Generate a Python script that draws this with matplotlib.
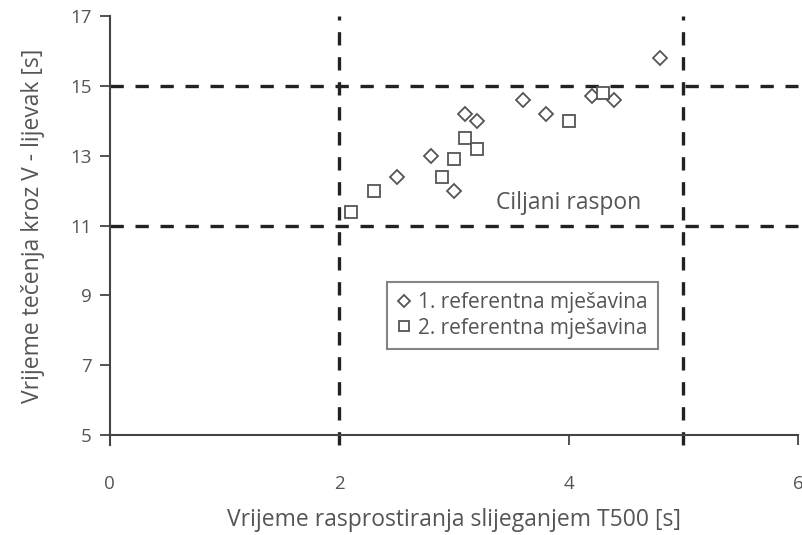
import matplotlib.pyplot as plt

plt.rcParams['font.family'] = ['Open Sans', 'DejaVu Sans']

# 1. referentna mjesavina (diamonds)
mix1_t500 = [2.5, 2.8, 3.0, 3.1, 3.2, 3.6, 3.8, 4.2, 4.4, 4.8]
mix1_vfun = [12.4, 13.0, 12.0, 14.2, 14.0, 14.6, 14.2, 14.7, 14.6, 15.8]

# 2. referentna mjesavina (squares)
mix2_t500 = [2.1, 2.3, 2.9, 3.0, 3.1, 3.2, 4.0, 4.3]
mix2_vfun = [11.4, 12.0, 12.4, 12.9, 13.5, 13.2, 14.0, 14.8]

target_t500 = [2, 5]
target_vfun = [11, 15]

x_ticks = [0, 2, 4, 6]
y_ticks = [5, 7, 9, 11, 13, 15, 17]

grey = '#555555'
fig = plt.figure(figsize=(8.02, 5.35), dpi=100)
ax = fig.add_axes([0.137, 0.187, 0.858, 0.783])

ax.plot(mix1_t500, mix1_vfun, linestyle='none', marker='D', markersize=7.5,
        markerfacecolor='white', markeredgecolor=grey, markeredgewidth=1.3,
        label='1. referentna mješavina', zorder=3)
ax.plot(mix2_t500, mix2_vfun, linestyle='none', marker='s', markersize=8.5,
        markerfacecolor='white', markeredgecolor=grey, markeredgewidth=1.3,
        label='2. referentna mješavina', zorder=3)

for xv in target_t500:
    ax.plot([xv, xv], [4.7, 17], color='#222222', lw=2.4, ls=(0, (4, 3.5)),
            clip_on=False, zorder=2)
for yv in target_vfun:
    ax.plot([0, 6], [yv, yv], color='#222222', lw=2.4, ls=(0, (4, 3.5)),
            clip_on=False, zorder=2)

ax.text(3.37, 11.65, 'Ciljani raspon', fontsize=16.5, color=grey, va='center')

ax.set_xlim(0, 6)
ax.set_ylim(5, 17)
ax.set_xticks(x_ticks)
ax.set_yticks(y_ticks)
ax.spines['top'].set_visible(False)
ax.spines['right'].set_visible(False)
for s in ['left', 'bottom']:
    ax.spines[s].set_color('#444444')
    ax.spines[s].set_linewidth(1.5)
ax.spines['left'].set_bounds(4.7, 17)
ax.tick_params(colors='#444444', labelcolor=grey, labelsize=13.5,
               length=7, width=1.3, direction='out')
ax.tick_params(axis='x', pad=22)
ax.tick_params(axis='y', pad=6)

ax.set_xlabel('Vrijeme rasprostiranja slijeganjem T500 [s]', fontsize=16.5,
              color=grey, va='center')
ax.xaxis.set_label_coords(0.5, -0.203)
ax.set_ylabel('Vrijeme tečenja kroz V - lijevak [s]', fontsize=16.5,
              color=grey, labelpad=18)

leg = ax.legend(loc='upper left', bbox_to_anchor=(0.403, 0.365),
                fontsize=15, frameon=True, fancybox=False,
                handlelength=0.6, handletextpad=0.4, borderpad=0.5,
                labelspacing=0.2, markerscale=0.8, borderaxespad=0)
leg.get_frame().set_edgecolor('#666666')
leg.get_frame().set_linewidth(1.5)
for t in leg.get_texts():
    t.set_color(grey)

fig.savefig('out.png', dpi=100)
